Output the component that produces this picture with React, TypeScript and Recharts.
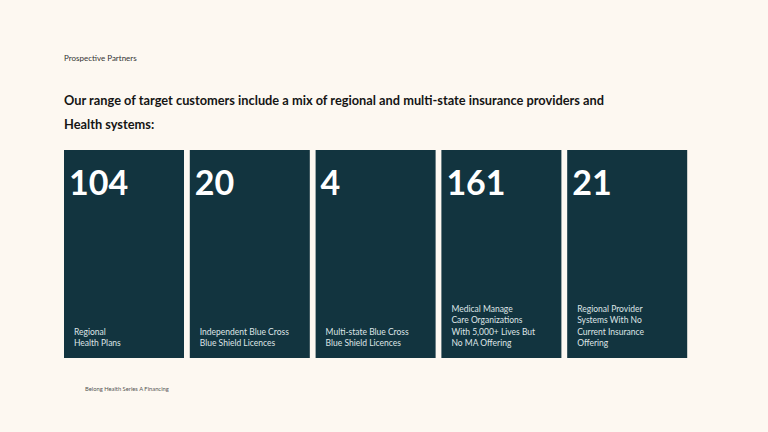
import React from 'react';
import { BarChart, Bar, XAxis, YAxis } from 'recharts';

const segments = ['regional', 'bcbsIndependent', 'bcbsMultiState', 'medicalManaged', 'providerSystems'];
const counts = [104, 20, 4, 161, 21];
const labels = [
    ['Regional', 'Health Plans'],
    ['Independent Blue Cross', 'Blue Shield Licences'],
    ['Multi-state Blue Cross', 'Blue Shield Licences'],
    ['Medical Manage', 'Care Organizations', 'With 5,000+ Lives But', 'No MA Offering'],
    ['Regional Provider', 'Systems With No', 'Current Insurance', 'Offering'],
];

const BG = '#fdf8f1';
const TILE = '#12343f';
const FONT = 'Lato, "Open Sans", sans-serif';

const chartData = segments.map((s, i) => ({ name: s, count: counts[i], lines: labels[i] }));

// each bar is drawn as a full-height tile; the value is shown as the big number
const Tile = (props: any) => {
    const { x, y, width, height, payload, value } = props;
    const bg = props.background && props.background.height ? props.background : { x, y: y + height - 208, width, height: 208 };
    const bottom = bg.y + bg.height;
    const lines: string[] = payload.lines || [];
    return (
        <g>
            <rect x={bg.x} y={bg.y} width={bg.width} height={bg.height} fill={TILE} />
            <text x={bg.x + 5} y={bg.y + 45} fill="#ffffff" fontFamily={FONT} fontWeight={700} fontSize={34}>
                {value}
            </text>
            {lines.map((line, i) => (
                <text
                    key={i}
                    x={bg.x + 10}
                    y={bottom - 12 - (lines.length - 1 - i) * 11.3}
                    fill="#dfe5e7"
                    fontFamily={FONT}
                    fontSize={8.5}
                >
                    {line}
                </text>
            ))}
        </g>
    );
};

export default function App() {
    return (
        <div style={{ position: 'fixed', left: 0, top: 0, width: 768, height: 432, background: BG, overflow: 'hidden', fontFamily: FONT }}>
            <div style={{ position: 'absolute', left: 64, top: 53, fontSize: 8, color: '#333' }}>Prospective Partners</div>
            <div style={{ position: 'absolute', left: 64, top: 88, fontSize: 12.8, fontWeight: 700, color: '#151515', lineHeight: '24px' }}>
                Our range of target customers include a mix of regional and multi-state insurance providers and
                <br />
                Health systems:
            </div>
            <div style={{ position: 'absolute', left: 85, top: 385, fontSize: 5.8, color: '#555' }}>Belong Health Series A Financing</div>
            <div style={{ position: 'absolute', left: 0, top: 0 }}>
                <BarChart width={768} height={432} data={chartData} margin={{ top: 150, right: 78, bottom: 74, left: 61 }}>
                    <XAxis dataKey="name" hide />
                    <YAxis hide domain={[0, 'dataMax']} />
                    <Bar dataKey="count" barSize={120} isAnimationActive={false} shape={<Tile />} />
                </BarChart>
            </div>
        </div>
    );
}
